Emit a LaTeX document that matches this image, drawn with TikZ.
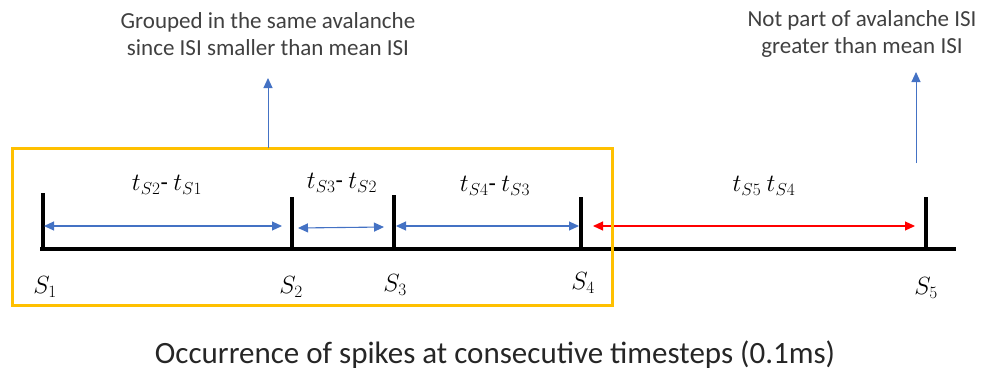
\documentclass[tikz,border=0pt]{standalone}
\usepackage{fontspec}
\setmainfont{Carlito}
\usepackage{xcolor}
\usepackage{tikz}
\definecolor{isiblue}{RGB}{68, 114, 196}
\definecolor{isired}{RGB}{255, 0, 0}
\definecolor{boxorange}{RGB}{255, 192, 0}
\definecolor{textgray}{RGB}{64, 64, 64}
\usetikzlibrary{arrows.meta, positioning, calc}

\begin{document}
\begin{tikzpicture}[
    x=1pt, y=-1pt,
    axisline/.style={line width=3.6pt, black},
    spike/.style={line width=3.4pt, black},
    isi/.style={line width=1.1pt, isiblue, {Triangle[width=9pt,length=10pt]}-{Triangle[width=9pt,length=10pt]}},
    isifar/.style={isi, isired},
    pointer/.style={line width=1pt, isiblue, -{Triangle[width=9pt,length=10pt]}},
    gap/.style={font=\fontsize{24}{26}\selectfont, inner sep=0pt},
    spikename/.style={font=\fontsize{25}{27}\selectfont, inner sep=0pt},
    note/.style={font=\fontsize{23}{27}\selectfont, text=textgray, align=center, inner sep=0pt}
]
    \useasboundingbox (0,0) rectangle (982,375);

    % Time axis and spikes
    \coordinate (axstart) at (40,249);
    \coordinate (axend) at (956,249);
    \coordinate (row) at (0,226);
    \coordinate (s1) at (43,249);  \coordinate (s1t) at (43,193);
    \coordinate (s2) at (292,249); \coordinate (s2t) at (292,197);
    \coordinate (s3) at (394,249); \coordinate (s3t) at (394,195);
    \coordinate (s4) at (581,249); \coordinate (s4t) at (581,197);
    \coordinate (s5) at (926,249); \coordinate (s5t) at (926,197);
    \draw[axisline] (axstart) -- (axend);
    \foreach \s in {1,...,5}
        \draw[spike] (s\s) -- (s\s t);

    % Inter spike intervals
    \draw[isi] ([xshift=1pt]s1 |- row) -- ([xshift=-10pt]s2 |- row);
    \draw[isi] ([xshift=6pt,yshift=-2pt]s2 |- row) -- ([xshift=-10pt,yshift=-1pt]s3 |- row);
    \draw[isi] ([xshift=2pt]s3 |- row) -- ([xshift=-2pt]s4 |- row);
    \draw[isifar] ([xshift=12pt]s4 |- row) -- ([xshift=-11pt]s5 |- row);

    \node[gap] (gap12) at (167,185) {$t_{S2}$- $t_{S1}$};
    \node[gap] (gap23) at (342,183) {$t_{S3}$- $t_{S2}$};
    \node[gap] (gap34) at (495,186) {$t_{S4}$- $t_{S3}$};
    \node[gap] (gap45) at (764,186) {$t_{S5}$ $t_{S4}$};

    % Spike names
    \node[spikename] (n1) at (45,287) {$S_1$};
    \node[spikename] (n2) at (291,287) {$S_2$};
    \node[spikename] (n3) at (395,285) {$S_3$};
    \node[spikename] (n4) at (583,283) {$S_4$};
    \node[spikename] (n5) at (926,288) {$S_5$};

    % Avalanche box
    \draw[boxorange, line width=3pt] (12,148) rectangle (612,305);
    \coordinate (boxtop) at (268,148);
    \coordinate (s5up) at (916,163);

    % Notes
    \node[note] (grouped) at (268,34) {Grouped in the same avalanche\\since ISI smaller than mean ISI};
    \node[note] (notpart) at (862,34) {Not part of avalanche ISI\\greater than mean ISI};
    \draw[pointer] (boxtop) -- (boxtop |- 0,78);
    \draw[pointer] (s5up) -- (s5up |- 0,72);

    \node[font=\fontsize{31}{34}\selectfont, text=black!85, inner sep=0pt] (caption) at (495,355)
        {Occurrence of spikes at consecutive timesteps (0.1ms)};
\end{tikzpicture}
\end{document}
